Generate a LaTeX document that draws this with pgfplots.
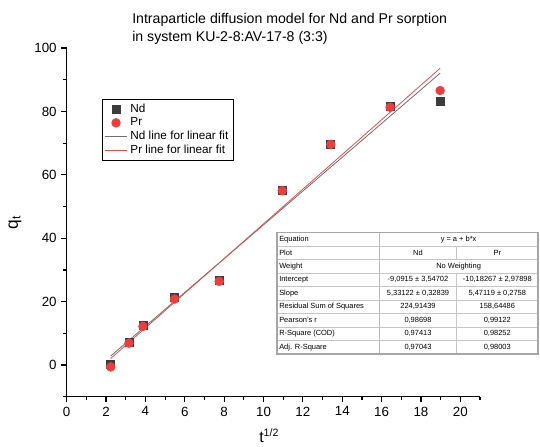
\documentclass[border=0pt]{standalone}
\usepackage{fontspec}
\setmainfont{Liberation Sans}
\usepackage{pgfplots}
\pgfplotsset{compat=1.18}

\definecolor{ndgray}{HTML}{3C3C3C}
\definecolor{prred}{HTML}{F03C3C}
\definecolor{ndline}{HTML}{6E6E6E}
\definecolor{prline}{HTML}{F04848}

\begin{document}
\begin{tikzpicture}
\begin{axis}[
  scale only axis,
  width=310pt, height=261.5pt,
  xmin=0, xmax=21, ymin=-10, ymax=100,
  axis x line*=bottom, axis y line*=left,
  axis line style={line width=0.9pt},
  xtick={0,2,...,20}, minor xtick={1,3,...,21},
  ytick={0,20,...,100}, minor ytick={-10,10,...,90},
  tick align=outside,
  major tick length=4pt, minor tick length=2.5pt,
  every tick/.style={black, line width=0.9pt},
  tick label style={font=\fontsize{10}{12}\selectfont},
  /pgf/number format/assume math mode=true,
  clip=false,
  title={Intraparticle diffusion model for Nd and Pr sorption\\in system KU-2-8:AV-17-8 (3:3)},
  title style={at={(0.158,1.078)}, anchor=north west, align=left,
    font=\fontsize{10.6}{13.5}\selectfont, inner sep=0pt},
  xlabel={t\textsuperscript{1/2}},
  xlabel style={at={(0.49,-0.113)}, anchor=center, font=\fontsize{12}{14}\selectfont},
  ylabel={q\textsubscript{t}},
  ylabel style={at={(-0.125,0.50)}, anchor=center, font=\fontsize{13}{15}\selectfont},
  legend style={at={(0.0854,0.8537)}, anchor=north west, draw=black,
    font=\fontsize{8.8}{10}\selectfont, inner sep=1.5pt, row sep=-1.5pt},
  legend cell align=left,
]
% Nd
\addplot[only marks, mark=square*, mark size=3pt, color=ndgray] coordinates {
  (2.236,0.2) (3.162,7.2) (3.873,12.5) (5.477,21.3) (7.746,26.6)
  (10.954,55.2) (13.416,69.6) (16.432,81.5) (18.974,83.1)};
% Pr
\addplot[only marks, mark=*, mark size=3.3pt, color=prred] coordinates {
  (2.236,-0.6) (3.162,6.9) (3.873,12.2) (5.477,20.8) (7.746,26.4)
  (10.954,55.0) (13.416,69.6) (16.432,81.3) (18.974,86.6)};
% linear fits
\addplot[color=ndline, line width=0.6pt] coordinates {(2.236,2.829) (18.974,92.06)};
\addplot[color=prline, line width=0.6pt] coordinates {(2.236,2.051) (18.974,93.63)};
\legend{Nd, Pr, Nd line for linear fit, Pr line for linear fit}
\end{axis}

% fit results table, pixel coordinates of the reference
\begin{scope}[shift={(-50.025pt,297.525pt)}, x=0.75pt, y=-0.75pt,
  every node/.style={font=\fontsize{5.6}{6.5}\selectfont, inner sep=0pt}]
  \fill[white] (277,232.5) rectangle (538,354);
  \foreach \r in {1,...,8}
    \draw[gray!45, line width=0.4pt] (277,232.5+13.5*\r) -- (538,232.5+13.5*\r);
  \draw[gray!55, line width=0.6pt] (379.3,232.5) -- (379.3,354);
  \draw[gray!45, line width=0.4pt] (456.7,246) -- (456.7,259.5);
  \draw[gray!45, line width=0.4pt] (456.7,273) -- (456.7,354);
  \draw[gray!70, line width=0.8pt] (277,232.5) rectangle (538,354);
  \foreach \t [count=\i] in {Equation, Plot, Weight, Intercept, Slope,
      Residual Sum of Squares, Pearson's r, R-Square (COD), Adj. R-Square}
    \node[anchor=west] at (279,232.5+13.5*\i-6.75) {\t};
  \node at (458.6,239.25) {y = a + b*x};
  \node at (418,252.75) {Nd};
  \node at (497.3,252.75) {Pr};
  \node at (458.6,266.25) {No Weighting};
  \foreach \a/\b [count=\i from 4] in {
      {-9,0915 ± 3,54702}/{-10,18267 ± 2,97898},
      {5,33122 ± 0,32839}/{5,47119 ± 0,2758},
      {224,91439}/{158,64486},
      {0,98698}/{0,99122},
      {0,97413}/{0,98252},
      {0,97043}/{0,98003}} {
    \node at (418,232.5+13.5*\i-6.75) {\a};
    \node at (497.3,232.5+13.5*\i-6.75) {\b};
  }
  \pgfresetboundingbox
  \useasboundingbox (0,0) rectangle (540,447);
\end{scope}
\end{tikzpicture}
\end{document}
